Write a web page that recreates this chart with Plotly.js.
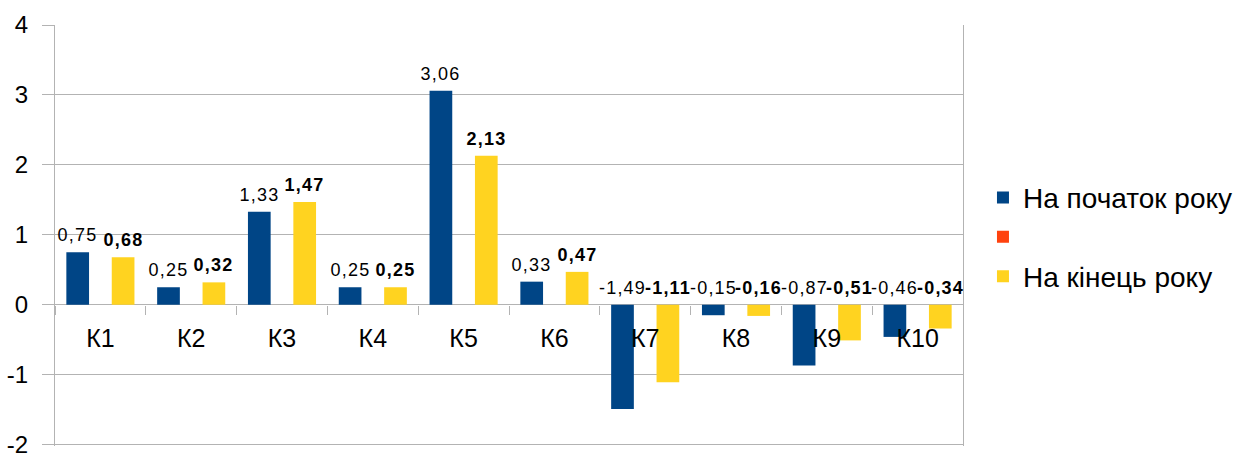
<!DOCTYPE html>
<html>
<head>
<meta charset="utf-8">
<script src="https://cdn.plot.ly/plotly-3.0.1.min.js"></script>
<style>
  html, body { margin: 0; padding: 0; background: #ffffff; }
  #chart { width: 1234px; height: 453px; }
  /* value labels are set with wide tracking */
  #chart .annotation-text { letter-spacing: 1.2px; }
</style>
</head>
<body>
<div id="chart"></div>
<script>
// Categories and the two yearly series
const categories = ['К1', 'К2', 'К3', 'К4', 'К5', 'К6', 'К7', 'К8', 'К9', 'К10'];
const startOfYear = [0.75, 0.25, 1.33, 0.25, 3.06, 0.33, -1.49, -0.15, -0.87, -0.46];
const endOfYear = [0.68, 0.32, 1.47, 0.25, 2.13, 0.47, -1.11, -0.16, -0.51, -0.34];
const emptySeries = [null, null, null, null, null, null, null, null, null, null];

const seriesNames = ['На початок року', ' ', 'На кінець року'];
const seriesColors = ['#004586', '#ff420e', '#ffd320'];

// Value axis ticks
const yTickVals = [-2, -1, 0, 1, 2, 3, 4];
const yTickText = ['-2', '-1', '0', '1', '2', '3', '4'];

const FONT = '"Liberation Sans", Arial, sans-serif';

function fmt(v) {
  return v.toFixed(2).replace('.', ',');
}

const traces = [startOfYear, emptySeries, endOfYear].map((vals, k) => ({
  type: 'bar',
  x: categories,
  y: vals,
  name: seriesNames[k],
  legendgroup: 'g' + k,
  marker: { color: seriesColors[k], line: { width: 0 } },
  hoverinfo: 'skip'
}));

// Value labels: above the bar when positive, above the zero line when negative
const annotations = [];
const labelSets = [
  { vals: startOfYear, offset: -0.25, bold: false },
  { vals: endOfYear, offset: 0.25, bold: true }
];
labelSets.forEach(set => {
  set.vals.forEach((v, i) => {
    const t = fmt(v);
    annotations.push({
      x: i + set.offset,
      y: Math.max(v, 0),
      xref: 'x',
      yref: 'y',
      text: set.bold ? '<b>' + t + '</b>' : t,
      showarrow: false,
      yanchor: 'bottom',
      yshift: 5,
      font: { family: FONT, size: 18, color: '#000000' }
    });
  });
});

const layout = {
  width: 1234,
  height: 453,
  margin: { l: 55, r: 271, t: 25, b: 7, autoexpand: false },
  paper_bgcolor: '#ffffff',
  plot_bgcolor: '#ffffff',
  font: { family: FONT, color: '#000000' },
  barmode: 'group',
  bargap: 0.25,
  bargroupgap: 0,
  showlegend: true,
  legend: {
    x: 1.022,
    y: 0.496,
    xanchor: 'left',
    yanchor: 'middle',
    font: { family: FONT, size: 28, color: '#000000' },
    traceorder: 'grouped',
    tracegroupgap: 0,
    bgcolor: 'rgba(0,0,0,0)'
  },
  xaxis: {
    type: 'category',
    anchor: 'free',
    position: 2.02 / 6.02,
    showgrid: false,
    showline: false,
    zeroline: false,
    ticks: 'outside',
    tickson: 'boundaries',
    ticklen: 9,
    tickcolor: '#b3b3b3',
    tickwidth: 1,
    tickfont: { family: FONT, size: 25, color: '#000000' },
    ticklabelstandoff: 16
  },
  yaxis: {
    range: [-2.02, 4],
    tickmode: 'array',
    tickvals: yTickVals,
    ticktext: yTickText,
    showgrid: true,
    gridcolor: '#b3b3b3',
    gridwidth: 1,
    zeroline: true,
    zerolinecolor: '#b3b3b3',
    zerolinewidth: 1,
    showline: true,
    linecolor: '#b3b3b3',
    linewidth: 1,
    mirror: true,
    ticks: 'outside',
    ticklen: 12,
    tickcolor: '#b3b3b3',
    tickfont: { family: FONT, size: 24, color: '#000000' },
    ticklabelstandoff: 9,
    ticklabeloverflow: 'allow'
  },
  annotations: annotations
};

Plotly.newPlot('chart', traces, layout, { displayModeBar: false, staticPlot: true });
</script>
</body>
</html>
